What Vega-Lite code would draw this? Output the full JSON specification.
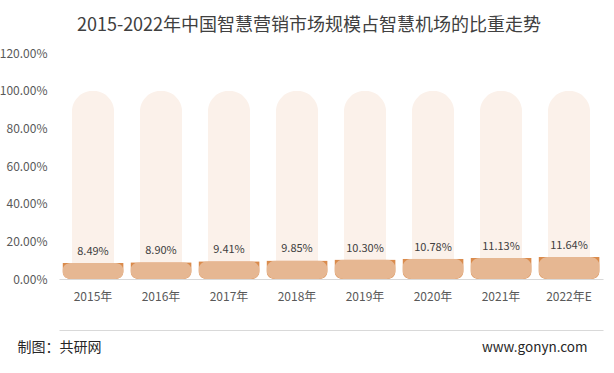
{
  "$schema": "https://vega.github.io/schema/vega-lite/v6.json",
  "width": 544,
  "height": 226,
  "autosize": {"type": "none"},
  "padding": {"left": 59, "top": 53, "right": 11, "bottom": 94},
  "background": "#ffffff",
  "title": {
    "text": "2015-2022年中国智慧营销市场规模占智慧机场的比重走势",
    "font": "Noto Sans CJK SC",
    "fontSize": 18,
    "fontWeight": "normal",
    "color": "#404040",
    "anchor": "middle",
    "frame": "group",
    "dx": -22,
    "offset": 12
  },
  "data": {
    "values": [
      {"year": "2015年", "value": 0.0849, "full": 1},
      {"year": "2016年", "value": 0.0890, "full": 1},
      {"year": "2017年", "value": 0.0941, "full": 1},
      {"year": "2018年", "value": 0.0985, "full": 1},
      {"year": "2019年", "value": 0.1030, "full": 1},
      {"year": "2020年", "value": 0.1078, "full": 1},
      {"year": "2021年", "value": 0.1113, "full": 1},
      {"year": "2022年E", "value": 0.1164, "full": 1}
    ]
  },
  "config": {
    "view": {"stroke": null},
    "font": "Noto Sans CJK SC",
    "axis": {"labelFont": "Noto Sans CJK SC", "titleFont": "Noto Sans CJK SC"},
    "axisY": {"labelOverlap": false}
  },
  "resolve": {"axis": {"x": "independent", "y": "independent"}},
  "layer": [
    {
      "mark": {"type": "bar", "width": {"band": 0.62}, "color": "#FBF1EA", "cornerRadiusTopLeft": 21, "cornerRadiusTopRight": 21},
      "encoding": {
        "x": {
          "field": "year", "type": "nominal", "sort": null,
          "scale": {"paddingInner": 0, "paddingOuter": 0},
          "axis": {
            "labelAngle": 0, "ticks": false, "labelPadding": 12,
            "labelFontSize": 12, "labelColor": "#595959",
            "domainColor": "#D9D9D9", "domainWidth": 1,
            "title": "制图：共研网", "titleFontSize": 14, "titleFontWeight": "normal",
            "titleColor": "#262626", "titleAnchor": "start", "titleAlign": "left",
            "titleX": -42, "titleY": 68, "titleBaseline": "middle"
          }
        },
        "y": {
          "field": "full", "type": "quantitative",
          "scale": {"domain": [0, 1.2], "nice": false},
          "axis": {
            "orient": "left",
            "values": [0, 0.2, 0.4, 0.6, 0.8, 1.0, 1.2], "format": ".2%",
            "grid": false, "domain": false, "ticks": false, "labelPadding": 12,
            "labelOverlap": false, "labelBound": false,
            "labelFontSize": 12, "labelColor": "#595959", "title": null
          }
        }
      }
    },
    {
      "mark": {"type": "bar", "width": {"band": 0.9}, "color": "#DA8B4C", "cornerRadiusBottomLeft": 8, "cornerRadiusBottomRight": 8},
      "encoding": {
        "x": {"field": "year", "type": "nominal", "sort": null, "axis": null},
        "y": {"field": "value", "type": "quantitative", "axis": null}
      }
    },
    {
      "mark": {"type": "bar", "width": {"band": 0.9}, "color": "#E6B792", "cornerRadius": 9},
      "encoding": {
        "x": {"field": "year", "type": "nominal", "sort": null, "axis": null},
        "y": {"field": "value", "type": "quantitative", "axis": null}
      }
    },
    {
      "mark": {"type": "text", "baseline": "bottom", "dy": -6, "fontSize": 11, "color": "#404040", "font": "Noto Sans CJK SC"},
      "encoding": {
        "x": {
          "field": "year", "type": "nominal", "sort": null,
          "axis": {
            "orient": "bottom", "offset": 51, "labels": false, "ticks": false,
            "domainColor": "#D9D9D9", "domainWidth": 1,
            "title": "www.gonyn.com", "titleFontSize": 13.5, "titleFontWeight": "normal",
            "titleColor": "#262626", "titleAnchor": "end", "titleAlign": "right",
            "titleX": 528, "titleY": 17, "titleBaseline": "middle"
          }
        },
        "y": {"field": "value", "type": "quantitative", "axis": null},
        "text": {"field": "value", "type": "quantitative", "format": ".2%"}
      }
    }
  ]
}
